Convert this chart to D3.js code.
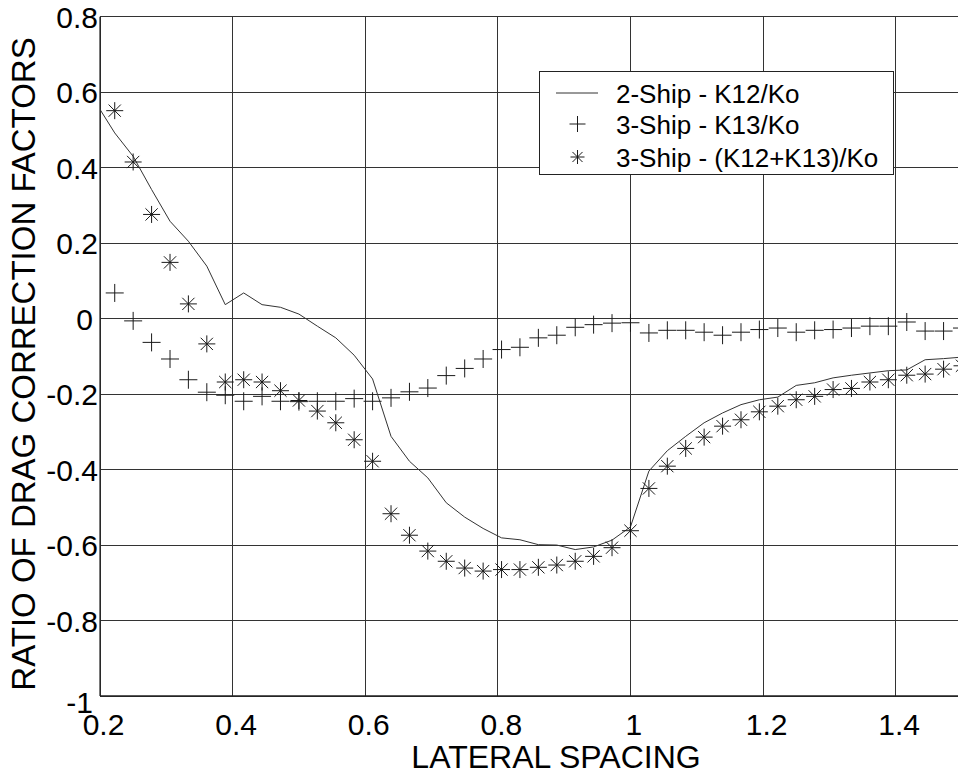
<!DOCTYPE html>
<html>
<head>
<meta charset="utf-8">
<script src="https://cdn.jsdelivr.net/npm/d3@7"></script>
<style>
  html, body { margin: 0; padding: 0; background: #fff; }
  svg { display: block; font-family: "Liberation Sans", Arial, sans-serif; }
</style>
</head>
<body>
<svg id="chart" width="958" height="774"></svg>
<script>
// ---- data ----
const spacing = [0.1944, 0.2222, 0.25, 0.2778, 0.3056, 0.3333, 0.3611, 0.3889, 0.4167, 0.4444,
  0.4722, 0.5, 0.5278, 0.5556, 0.5833, 0.6111, 0.6389, 0.6667, 0.6944, 0.7222,
  0.75, 0.7778, 0.8056, 0.8333, 0.8611, 0.8889, 0.9167, 0.9444, 0.9722, 1.0,
  1.0278, 1.0556, 1.0833, 1.1111, 1.1389, 1.1667, 1.1944, 1.2222, 1.25, 1.2778,
  1.3056, 1.3333, 1.3611, 1.3889, 1.4167, 1.4444, 1.4722, 1.5];

const twoShipK12 = [0.57, 0.492, 0.430, 0.342, 0.258, 0.205, 0.139, 0.037, 0.068, 0.037,
  0.030, 0.012, -0.020, -0.051, -0.097, -0.160, -0.312, -0.378, -0.422, -0.488,
  -0.526, -0.556, -0.581, -0.586, -0.599, -0.600, -0.612, -0.605, -0.587, -0.552,
  -0.404, -0.350, -0.312, -0.276, -0.250, -0.228, -0.215, -0.208, -0.177, -0.170,
  -0.157, -0.150, -0.144, -0.138, -0.136, -0.109, -0.106, -0.102];

const threeShipK13 = [null, 0.068, -0.006, -0.063, -0.107, -0.162, -0.195, -0.203, -0.219, -0.206,
  -0.219, -0.220, -0.219, -0.219, -0.212, -0.219, -0.210, -0.194, -0.184, -0.151,
  -0.132, -0.107, -0.082, -0.076, -0.051, -0.044, -0.023, -0.016, -0.012, -0.011,
  -0.038, -0.031, -0.031, -0.036, -0.044, -0.036, -0.029, -0.025, -0.036, -0.031,
  -0.029, -0.025, -0.020, -0.020, -0.009, -0.033, -0.033, -0.025];

const threeShipSum = [null, 0.551, 0.415, 0.276, 0.149, 0.039, -0.067, -0.168, -0.162, -0.168,
  -0.191, -0.217, -0.245, -0.276, -0.321, -0.378, -0.517, -0.574, -0.616, -0.643,
  -0.661, -0.669, -0.665, -0.665, -0.659, -0.653, -0.643, -0.630, -0.607, -0.562,
  -0.450, -0.391, -0.344, -0.314, -0.285, -0.268, -0.247, -0.232, -0.215, -0.206,
  -0.188, -0.185, -0.168, -0.162, -0.150, -0.147, -0.134, -0.125];

const xTicks = [0.2, 0.4, 0.6, 0.8, 1, 1.2, 1.4];
const yTicks = [-1, -0.8, -0.6, -0.4, -0.2, 0, 0.2, 0.4, 0.6, 0.8];
const legendLabels = ["2-Ship - K12/Ko", "3-Ship - K13/Ko", "3-Ship - (K12+K13)/Ko"];
const xTitle = "LATERAL SPACING";
const yTitle = "RATIO OF DRAG CORRECTION FACTORS";

// ---- layout ----
const svg = d3.select("#chart");
const pL = 100, pR = 962, pT = 16.7, pB = 696;
const x = d3.scaleLinear().domain([0.2, 1.5]).range([pL, pR]);
const y = d3.scaleLinear().domain([-1, 0.8]).range([pB, pT]);
const ink = "#1a1a1a";
const fmt = d => String(d); // plain hyphen-minus like the reference

svg.append("defs").append("clipPath").attr("id", "plotclip")
  .append("rect").attr("x", pL).attr("y", pT - 1).attr("width", pR - pL).attr("height", pB - pT + 2);

// grid
const grid = svg.append("g").attr("stroke", "#333").attr("stroke-width", 1).attr("shape-rendering", "crispEdges");
grid.selectAll("line.v").data(xTicks).join("line")
  .attr("x1", d => x(d)).attr("x2", d => x(d)).attr("y1", pT).attr("y2", pB);
grid.selectAll("line.h").data(yTicks).join("line")
  .attr("x1", pL).attr("x2", 958).attr("y1", d => y(d)).attr("y2", d => y(d));

// axes lines
svg.append("line").attr("x1", pL).attr("x2", pL).attr("y1", pT).attr("y2", pB)
  .attr("stroke", "#222").attr("stroke-width", 1.2);
svg.append("line").attr("x1", pL).attr("x2", 958).attr("y1", pB).attr("y2", pB)
  .attr("stroke", "#222").attr("stroke-width", 1.6);

// tick labels via d3 axes (no tick lines)
const xAxis = svg.append("g").attr("transform", `translate(0,${pB})`)
  .call(d3.axisBottom(x).tickValues(xTicks).tickFormat(fmt).tickSize(0).tickPadding(0));
xAxis.select(".domain").remove();
xAxis.selectAll("text").attr("font-size", 30).attr("fill", "#000")
  .attr("font-family", "'Liberation Sans', Arial, sans-serif").attr("dy", null).attr("y", 39)
  .attr("dx", 3);

const yAxis = svg.append("g").attr("transform", `translate(${pL},0)`)
  .call(d3.axisLeft(y).tickValues(yTicks).tickFormat(fmt).tickSize(0).tickPadding(0));
yAxis.select(".domain").remove();
yAxis.selectAll("text").attr("font-size", 30).attr("fill", "#000")
  .attr("font-family", "'Liberation Sans', Arial, sans-serif")
  .attr("x", d => (d === 0 || d === -1) ? -7 : -2)
  .attr("dy", d => d === -1 ? "0.55em" : "0.36em");

// titles
svg.append("text").attr("x", 556).attr("y", 768).attr("text-anchor", "middle")
  .attr("font-size", 32).attr("fill", "#000").text(xTitle);
svg.append("text").attr("transform", "translate(35,364) rotate(-90)").attr("text-anchor", "middle")
  .attr("font-size", 33).attr("fill", "#000").text(yTitle);

// data
const plot = svg.append("g").attr("clip-path", "url(#plotclip)");
const lineData = spacing.map((s, i) => [s, twoShipK12[i]]);
plot.append("path").datum(lineData)
  .attr("fill", "none").attr("stroke", "#333").attr("stroke-width", 1)
  .attr("d", d3.line().x(d => x(d[0])).y(d => y(d[1])));

function plusPath(cx, cy, r) {
  return `M${cx - r},${cy}H${cx + r}M${cx},${cy - r}V${cy + r}`;
}
function starPath(cx, cy, r) {
  const q = r * 0.72;
  return plusPath(cx, cy, r) + `M${cx - q},${cy - q}L${cx + q},${cy + q}M${cx - q},${cy + q}L${cx + q},${cy - q}`;
}

const plusData = spacing.map((s, i) => [s, threeShipK13[i]]).filter(d => d[1] !== null);
plot.append("g").selectAll("path").data(plusData).join("path")
  .attr("d", d => plusPath(x(d[0]), y(d[1]), 9))
  .attr("stroke", ink).attr("stroke-width", 1).attr("fill", "none");

const starData = spacing.map((s, i) => [s, threeShipSum[i]]).filter(d => d[1] !== null);
plot.append("g").selectAll("path").data(starData).join("path")
  .attr("d", d => starPath(x(d[0]), y(d[1]), 8.5))
  .attr("stroke", ink).attr("stroke-width", 1).attr("fill", "none");

// legend
const lg = svg.append("g");
lg.append("rect").attr("x", 539.5).attr("y", 71.5).attr("width", 354).attr("height", 103)
  .attr("fill", "#fff").attr("stroke", "#222").attr("stroke-width", 1);
const rowsY = [93, 124, 157];
lg.append("line").attr("x1", 556).attr("x2", 598).attr("y1", rowsY[0]).attr("y2", rowsY[0])
  .attr("stroke", "#333").attr("stroke-width", 1);
lg.append("path").attr("d", plusPath(577.5, rowsY[1], 8)).attr("stroke", ink).attr("fill", "none");
lg.append("path").attr("d", starPath(577.5, rowsY[2], 7)).attr("stroke", ink).attr("fill", "none");
lg.selectAll("text").data(legendLabels).join("text")
  .attr("x", 616).attr("y", (d, i) => rowsY[i] + 9.5)
  .attr("font-size", 26).attr("fill", "#000").text(d => d);
</script>
</body>
</html>
